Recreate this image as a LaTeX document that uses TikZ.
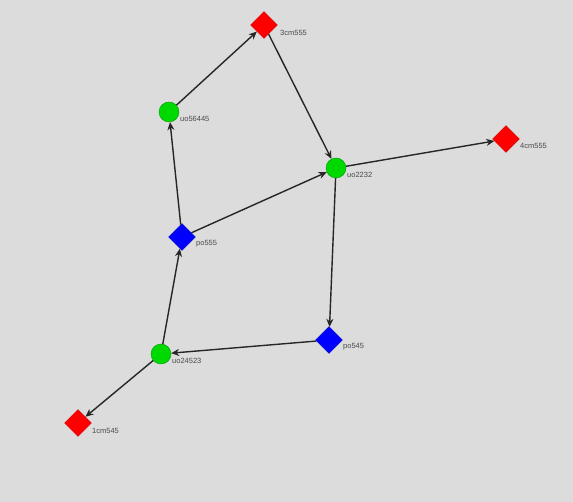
\documentclass[tikz,border=0pt]{standalone}
\usepackage{fontspec}
\setmainfont{Liberation Sans}
\usetikzlibrary{shapes.geometric,arrows.meta}
\definecolor{bg}{HTML}{DCDCDC}
\definecolor{lbl}{HTML}{4A4A4A}
\begin{document}
\begin{tikzpicture}[x=1pt,y=-1pt,
  circ/.style={circle,fill=green!85!black,draw=green!60!black,line width=0.4pt,minimum size=20pt,inner sep=0pt},
  redd/.style={diamond,fill=red,draw=red!80!black,line width=0.4pt,minimum size=27pt,inner sep=0pt},
  blued/.style={diamond,fill=blue,draw=blue!80!black,line width=0.4pt,minimum size=27pt,inner sep=0pt},
  lab/.style={font=\fontsize{7.5}{8}\selectfont,text=lbl,anchor=west,inner sep=0pt},
  edge/.style={draw=black!85,line width=1.4pt,-{Stealth[length=8pt,width=7pt]}}]
\fill[bg] (0,0) rectangle (573,502);
\useasboundingbox (0,0) rectangle (573,502);
\node[redd] (c3) at (264,25) {};
\node[circ] (u56) at (169,112) {};
\node[circ] (u22) at (336,168) {};
\node[redd] (c4) at (506,139) {};
\node[blued] (p55) at (182,237) {};
\node[blued] (p45) at (329,340) {};
\node[circ] (u24) at (161,354) {};
\node[redd] (c1) at (78,423) {};
\node[lab] (lc3) at (280,33) {3cm555};
\node[lab] (lu56) at (180,119) {uo56445};
\node[lab] (lu22) at (347,175) {uo2232};
\node[lab] (lc4) at (520,146) {4cm555};
\node[lab] (lp55) at (196,244) {po555};
\node[lab] (lp45) at (343,347) {po545};
\node[lab] (lu24) at (172,361) {uo24523};
\node[lab] (lc1) at (92,431) {1cm545};
\draw[edge] (u56) -- (c3);
\draw[edge] (c3) -- (u22);
\draw[edge] (u22) -- (c4);
\draw[edge] (p55) -- (u56);
\draw[edge] (p55) -- (u22);
\draw[edge] (u22) -- (p45);
\draw[edge] (p45) -- (u24);
\draw[edge] (u24) -- (p55);
\draw[edge] (u24) -- (c1);
\end{tikzpicture}
\end{document}
